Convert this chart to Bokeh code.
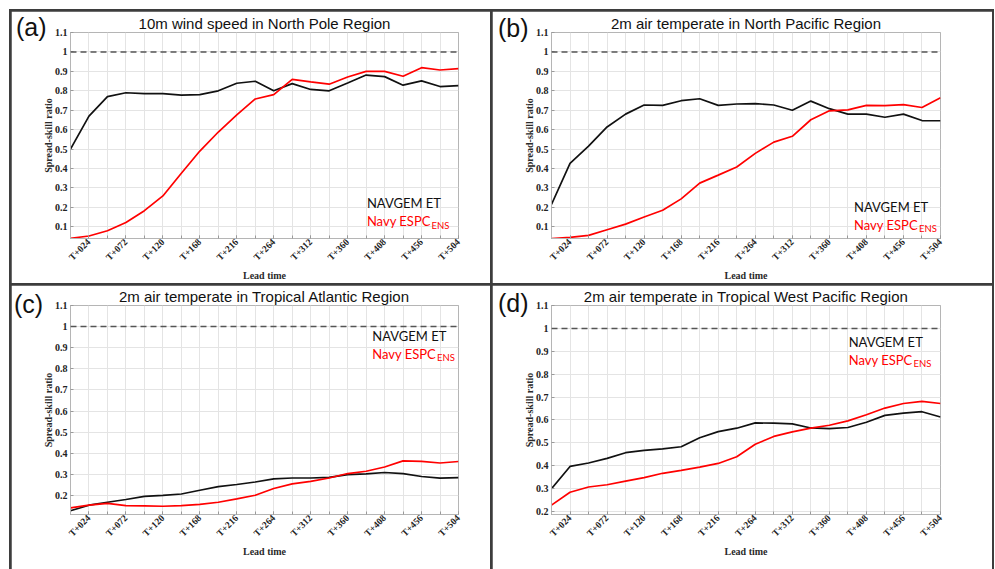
from bokeh.plotting import figure
from bokeh.models import FixedTicker, Span, Label, NumeralTickFormatter, ColumnDataSource, Range1d, Div
from bokeh.layouts import row, column
from bokeh.embed import file_html
from bokeh.resources import INLINE

# ---------------- data ----------------
lead_hours = [0, 24, 48, 72, 96, 120, 144, 168, 192, 216, 240, 264, 288, 312,
              336, 360, 384, 408, 432, 456, 480, 504]
tick_hours = [24, 72, 120, 168, 216, 264, 312, 360, 408, 456, 504]
tick_labels = ["T+024", "T+072", "T+120", "T+168", "T+216", "T+264",
               "T+312", "T+360", "T+408", "T+456", "T+504"]
y_ticks = [0.1, 0.2, 0.3, 0.4, 0.5, 0.6, 0.7, 0.8, 0.9, 1.0, 1.1]

titles = ["10m wind speed in North Pole Region",
          "2m air temperate in North Pacific Region",
          "2m air temperate in Tropical Atlantic Region",
          "2m air temperate in Tropical West Pacific Region"]
panel_tags = ["(a)", "(b)", "(c)", "(d)"]
series_names = ["NAVGEM ET", "Navy ESPC", "ENS"]

navgem_a = [0.50, 0.67, 0.77, 0.79, 0.785, 0.785, 0.778, 0.78, 0.80, 0.839, 0.849,
            0.80, 0.837, 0.807, 0.80, 0.84, 0.881, 0.873, 0.829, 0.851, 0.822, 0.827]
espc_a = [0.041, 0.053, 0.08, 0.122, 0.183, 0.259, 0.376, 0.49, 0.588, 0.676, 0.758,
          0.78, 0.859, 0.846, 0.834, 0.871, 0.90, 0.90, 0.875, 0.919, 0.907, 0.914]

navgem_b = [0.215, 0.427, 0.515, 0.614, 0.68, 0.727, 0.725, 0.749, 0.759, 0.725, 0.732,
            0.734, 0.727, 0.70, 0.747, 0.708, 0.68, 0.68, 0.664, 0.68, 0.647, 0.646]
espc_b = [0.04, 0.046, 0.056, 0.085, 0.114, 0.151, 0.185, 0.244, 0.325, 0.366, 0.408,
          0.478, 0.536, 0.566, 0.651, 0.697, 0.702, 0.725, 0.724, 0.729, 0.714, 0.764]

navgem_c = [0.128, 0.154, 0.168, 0.181, 0.196, 0.201, 0.207, 0.225, 0.242, 0.252, 0.264,
            0.279, 0.283, 0.283, 0.286, 0.299, 0.302, 0.309, 0.304, 0.29, 0.282, 0.285]
espc_c = [0.141, 0.154, 0.163, 0.152, 0.151, 0.149, 0.152, 0.158, 0.168, 0.184, 0.201,
          0.233, 0.255, 0.267, 0.283, 0.304, 0.315, 0.335, 0.364, 0.362, 0.354, 0.361]

navgem_d = [0.30, 0.397, 0.412, 0.432, 0.457, 0.467, 0.474, 0.483, 0.522, 0.549, 0.564,
            0.587, 0.586, 0.583, 0.565, 0.562, 0.567, 0.59, 0.62, 0.63, 0.636, 0.613]
espc_d = [0.228, 0.284, 0.307, 0.317, 0.333, 0.348, 0.367, 0.38, 0.394, 0.41, 0.439,
          0.494, 0.528, 0.548, 0.564, 0.577, 0.596, 0.623, 0.652, 0.672, 0.681, 0.672]

y_bottoms = [0.04, 0.04, 0.11, 0.187]

# ---------------- styling / layout ----------------
SERIF = "Liberation Serif"
SANS = "Liberation Sans"
LEG = "Lato"

# (width, height, left, right, top, bottom)
geoms = [(479, 272, 59, 32, 21, 43),
         (500, 272, 59, 52, 21, 43),
         (479, 284, 59, 32, 20, 55),
         (500, 284, 59, 52, 20, 55)]
# tag positions (px, relative to the framed block)
tag_pos = [(7, 6), (489, 7), (5, 283), (489, 282)]
# legend positions in data units
annos = [(385, 0.221, 0.129, 0.108),
         (392, 0.202, 0.108, 0.091),
         (392, 0.954, 0.868, 0.853),
         (385, 0.942, 0.862, 0.848)]
SUB_DX = 84  # data units after "Navy ESPC"

navgems = [navgem_a, navgem_b, navgem_c, navgem_d]
espcs = [espc_a, espc_b, espc_c, espc_d]


def make_panel(i):
    w, h, l, r, t, b = geoms[i]
    p = figure(width=w, height=h, output_backend="svg", toolbar_location=None,
               x_range=Range1d(0, 504), y_range=Range1d(y_bottoms[i], 1.1),
               min_border_left=l, min_border_right=r, min_border_top=t, min_border_bottom=b,
               title=titles[i])
    p.title.align = "center"
    p.title.text_font = SANS
    p.title.text_font_style = "normal"
    p.title.text_font_size = "15px"
    p.title.text_color = "#111111"
    p.title.standoff = 1
    p.title.offset = 0

    p.outline_line_color = "#b5b5b5"
    p.outline_line_width = 1
    p.background_fill_color = "white"
    p.border_fill_color = "white"

    xa = p.xaxis[0]
    xa.ticker = FixedTicker(ticks=tick_hours, minor_ticks=lead_hours)
    xa.major_label_overrides = {h_: lab for h_, lab in zip(tick_hours, tick_labels)}
    xa.major_label_orientation = 0.785398
    xa.axis_label = "Lead time"
    for ax in (xa, p.yaxis[0]):
        ax.axis_label_text_font = SERIF
        ax.axis_label_text_font_style = "bold"
        ax.axis_label_text_font_size = "10px"
        ax.axis_label_text_color = "#2a2a2a"
        ax.major_label_text_font = SERIF
        ax.major_label_text_font_style = "bold"
        ax.major_label_text_color = "#222222"
        ax.axis_line_color = "#b5b5b5"
        ax.major_tick_line_color = "#9a9a9a"
        ax.minor_tick_line_color = "#9a9a9a"
        ax.major_tick_in = 3
        ax.major_tick_out = 0
        ax.minor_tick_in = 3
        ax.minor_tick_out = 0
    xa.major_label_text_font_size = "9.5px"
    xa.major_label_standoff = 2
    xa.axis_label_standoff = 1
    ya = p.yaxis[0]
    ya.major_label_text_font_size = "10px"
    ya.ticker = FixedTicker(ticks=y_ticks, minor_ticks=[])
    ya.formatter = NumeralTickFormatter(format="0.[0]")
    ya.axis_label = "Spread-skill ratio"
    ya.major_label_standoff = 3
    ya.axis_label_standoff = -2

    p.xgrid.ticker = FixedTicker(ticks=lead_hours, minor_ticks=[])
    p.ygrid.ticker = FixedTicker(ticks=y_ticks, minor_ticks=[])
    p.xgrid.grid_line_color = "#e4e4e4"
    p.ygrid.grid_line_color = "#e4e4e4"

    p.add_layout(Span(location=1.0, dimension="width", line_color="#555555",
                      line_width=1.5, line_dash="6 4"))

    src = ColumnDataSource(dict(x=lead_hours, nav=navgems[i], esp=espcs[i]))
    p.line("x", "nav", source=src, line_color="#111111", line_width=1.7)
    p.line("x", "esp", source=src, line_color="#ff0000", line_width=1.7)

    lx, l1, l2, sy = annos[i]
    p.add_layout(Label(x=lx, y=l1, text=series_names[0], text_font=LEG,
                       text_font_size="13px", text_color="#111111", text_baseline="middle"))
    p.add_layout(Label(x=lx, y=l2, text=series_names[1], text_font=LEG,
                       text_font_size="13px", text_color="#ff0000", text_baseline="middle"))
    p.add_layout(Label(x=lx + SUB_DX, y=sy, text=series_names[2], text_font=LEG,
                       text_font_size="9.5px", text_color="#ff0000", text_baseline="middle"))
    return p


panels = [make_panel(i) for i in range(4)]

tags = []
for i in range(4):
    tx, ty = tag_pos[i]
    tags.append(Div(text=panel_tags[i], margin=0,
                    styles={"position": "absolute", "left": f"{tx}px", "top": f"{ty}px",
                            "font-family": SANS, "font-size": "25px", "line-height": "1",
                            "color": "#111111", "z-index": "10", "white-space": "nowrap"}))

layout = column(row(panels[0], panels[1], spacing=2),
                row(panels[2], panels[3], spacing=2),
                *tags,
                spacing=2,
                styles={"background-color": "#3d3d3d", "padding": "2px 2px 0px 2px",
                        "position": "relative"},
                margin=(9, 0, 0, 9))

open("out.html", "w").write(file_html(layout, INLINE))
